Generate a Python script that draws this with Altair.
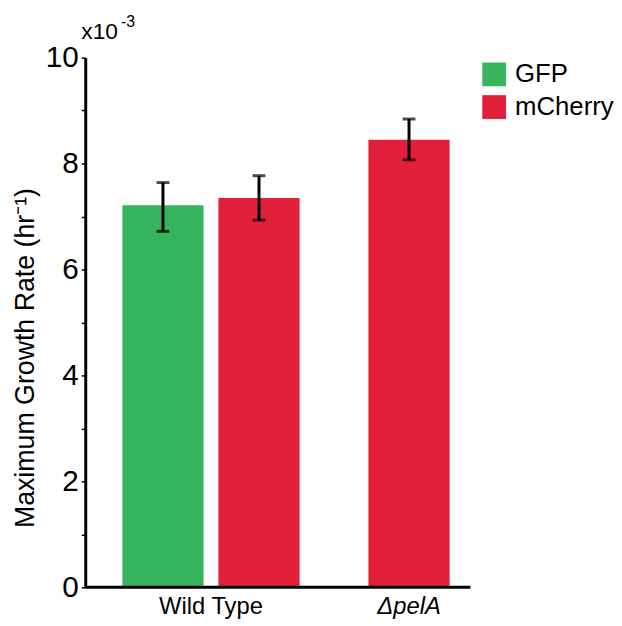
import altair as alt
import pandas as pd

groups = ["Wild Type", "Wild Type", "ΔpelA"]
strains = ["GFP", "mCherry", "mCherry"]
values = [7.21, 7.35, 8.45]
err_low = [6.72, 6.93, 8.07]
err_high = [7.64, 7.77, 8.84]

group_order = ["Wild Type", "ΔpelA"]
strain_order = ["GFP", "mCherry"]
colors = ["#37B55E", "#E1213C"]

df = pd.DataFrame({"group": groups, "strain": strains, "value": values,
                   "lo": err_low, "hi": err_high})

FONT = "Liberation Sans"

x_enc = alt.X("group:N", sort=group_order,
              scale=alt.Scale(domain=group_order, paddingInner=0.03, paddingOuter=0.15),
              axis=alt.Axis(title=None, domain=False, ticks=False, labelAngle=0,
                            labelFont=FONT, labelFontSize=24, labelColor="black",
                            labelPadding=7,
                            labelFontStyle={"expr": "datum.value == 'ΔpelA' ? 'italic' : 'normal'"}))
xo_enc = alt.XOffset("strain:N", sort=strain_order,
                     scale=alt.Scale(domain=strain_order, paddingInner=0.1546, paddingOuter=0.0773))
y_scale = alt.Scale(domain=[0, 10], nice=False)
y_enc = alt.Y("value:Q", scale=y_scale,
              axis=alt.Axis(values=list(range(11)),
                            labelExpr="datum.value % 2 == 0 ? datum.label : ''",
                            labelOverlap=False, grid=False,
                            tickSize=4, tickWidth=1.5, tickColor="black",
                            domainWidth=3, domainColor="black",
                            labelFont=FONT, labelFontSize=30, labelColor="black",
                            labelPadding=3,
                            title="Maximum Growth Rate (hr⁻¹)", titleFont=FONT,
                            titleFontSize=27, titleFontWeight="normal", titleColor="black",
                            titlePadding=6, titleY=303))
c_enc = alt.Color("strain:N", sort=strain_order,
                  scale=alt.Scale(domain=strain_order, range=colors),
                  legend=alt.Legend(title=None, orient="none", legendX=400, legendY=4,
                                    symbolType="square", symbolSize=576,
                                    symbolStrokeWidth=0, labelFont=FONT,
                                    labelFontSize=26, labelColor="black",
                                    labelOffset=8, rowPadding=7))

base = alt.Chart(df)
wt = base.transform_filter("datum.group == 'Wild Type'")
mut = base.transform_filter("datum.group != 'Wild Type'")

bars_wt = wt.mark_bar().encode(x=x_enc, xOffset=xo_enc, y=y_enc, color=c_enc)
bars_mut = mut.mark_bar(size=82).encode(x=x_enc, y=y_enc, color=c_enc)

rule_wt = wt.mark_rule(color="black", strokeWidth=3).encode(
    x=x_enc, xOffset=xo_enc, y=alt.Y("lo:Q", scale=y_scale), y2="hi:Q")
rule_mut = mut.mark_rule(color="black", strokeWidth=3).encode(
    x=x_enc, y=alt.Y("lo:Q", scale=y_scale), y2="hi:Q")

caps = []
for col in ["lo", "hi"]:
    caps.append(wt.mark_tick(color="black", size=13, thickness=3, orient="horizontal").encode(
        x=x_enc, xOffset=xo_enc, y=alt.Y(f"{col}:Q", scale=y_scale)))
    caps.append(mut.mark_tick(color="black", size=13, thickness=3, orient="horizontal").encode(
        x=x_enc, y=alt.Y(f"{col}:Q", scale=y_scale)))

x_line = alt.Chart(pd.DataFrame({"a": [0]})).mark_rule(color="black", strokeWidth=3).encode(
    x=alt.value(0), x2=alt.value(389), y=alt.value(535))

exp_base = alt.Chart(pd.DataFrame({"t": ["x10"]})).mark_text(
    font=FONT, fontSize=23, align="left", baseline="alphabetic", color="black").encode(
    text="t:N", x=alt.value(-4), y=alt.value(-19))
exp_sup = alt.Chart(pd.DataFrame({"t": ["-3"]})).mark_text(
    font=FONT, fontSize=16, align="left", baseline="alphabetic", color="black").encode(
    text="t:N", x=alt.value(36), y=alt.value(-31))

chart = alt.layer(bars_wt, bars_mut, rule_wt, rule_mut, *caps, x_line, exp_base, exp_sup).properties(
    width=454, height=535,
    background="white",
    autosize=alt.AutoSizeParams(type="none"),
    padding={"left": 78, "top": 47, "right": 80, "bottom": 34},
).configure_view(stroke=None, strokeWidth=0)

chart.save("out.html", embed_options={"renderer": "svg", "actions": False})
